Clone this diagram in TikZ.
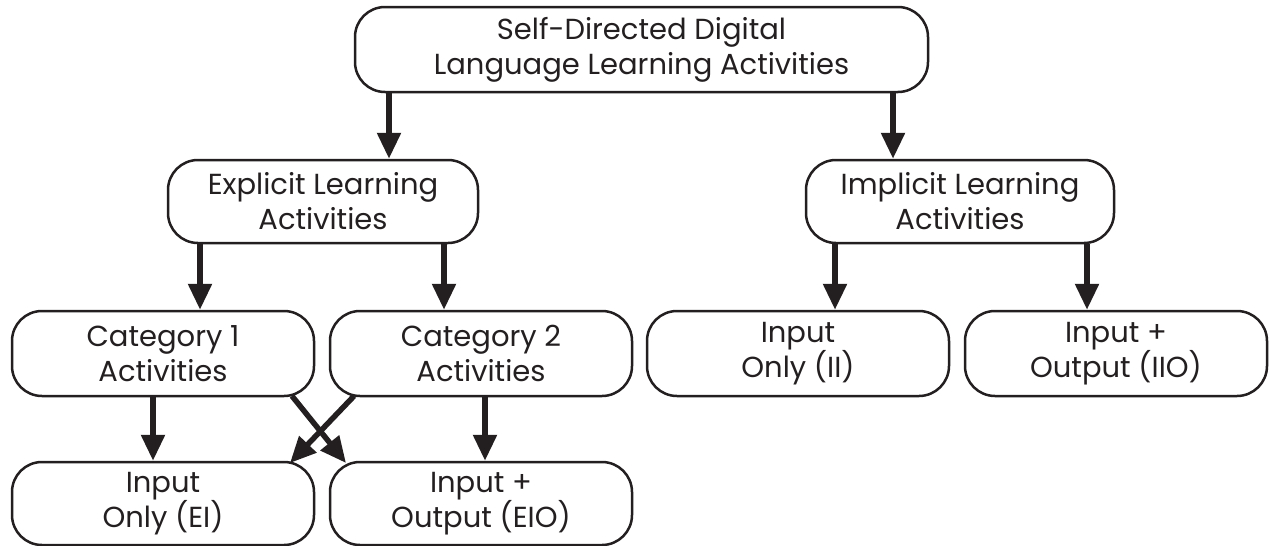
\documentclass[tikz,border=0pt]{standalone}
\usepackage{fontspec}
\setmainfont{Poppins}
\usetikzlibrary{arrows.meta}
\definecolor{ink}{HTML}{231F20}
\begin{document}
\begin{tikzpicture}[x=1pt,y=-1pt,
  box/.style={draw=ink,line width=2.5pt,rounded corners=30pt,align=center,
    font=\fontsize{29}{35}\selectfont,text=ink,inner sep=0pt},
  arr/.style={draw=ink,line width=5.5pt,-{Triangle[length=26pt,width=23pt]}}]
\useasboundingbox (0,0) rectangle (1270,546);
\node[box,minimum width=573pt,minimum height=85pt] (top) at (641.5,49.5) {Self-Directed Digital\\Language Learning Activities};
\node[box,minimum width=310pt,minimum height=83pt] (exp) at (323,201.5) {Explicit Learning\\Activities};
\node[box,minimum width=308pt,minimum height=83pt] (imp) at (960,201.5) {Implicit Learning\\Activities};
\node[box,minimum width=302pt,minimum height=85pt] (c1) at (163,353.5) {Category 1\\Activities};
\node[box,minimum width=302pt,minimum height=85pt] (c2) at (481,353.5) {Category 2\\Activities};
\node[box,minimum width=302pt,minimum height=85pt] (ii) at (798,353.5) {Input\\Only (II)};
\node[box,minimum width=302pt,minimum height=85pt] (iio) at (1116,353.5) {Input +\\Output (IIO)};
\node[box,minimum width=302pt,minimum height=83pt] (ei) at (163,503.5) {Input\\Only (EI)};
\node[box,minimum width=302pt,minimum height=83pt] (eio) at (481,503.5) {Input +\\Output (EIO)};
\draw[arr] (top.south -| 389,0) -- (exp.north -| 389,0);
\draw[arr] (top.south -| 893,0) -- (imp.north -| 893,0);
\draw[arr] (exp.south -| 200,0) -- (c1.north -| 200,0);
\draw[arr] (exp.south -| 444,0) -- (c2.north -| 444,0);
\draw[arr] (imp.south -| 835,0) -- (ii.north -| 835,0);
\draw[arr] (imp.south -| 1087,0) -- (iio.north -| 1087,0);
\draw[arr] (c1.south -| 153,0) -- (ei.north -| 153,0);
\draw[arr] (c2.south -| 485,0) -- (eio.north -| 485,0);
\coordinate (a1) at (292,396);
\coordinate (a2) at (346,463);
\coordinate (b1) at (354,396);
\coordinate (b2) at (290,463);
\draw[arr] (a1) -- (a2);
\draw[arr] (b1) -- (b2);
\end{tikzpicture}
\end{document}
